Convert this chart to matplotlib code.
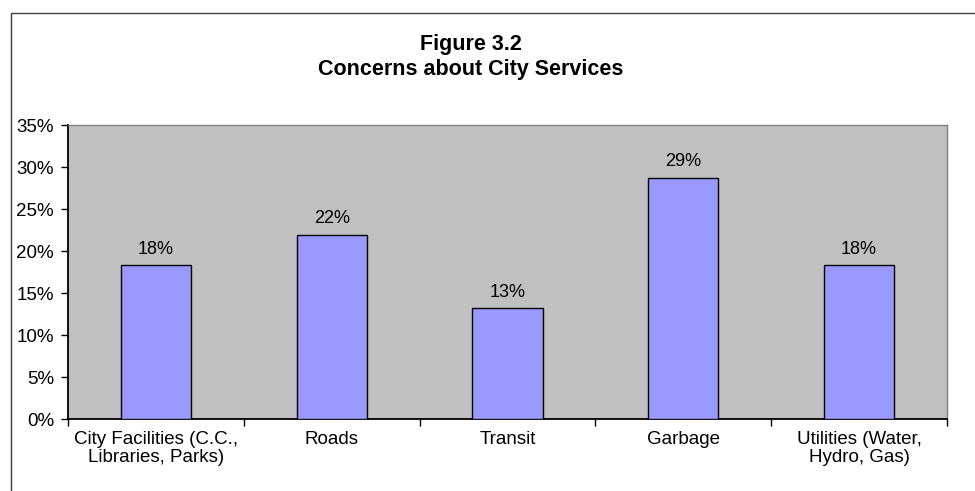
import matplotlib.pyplot as plt
import matplotlib.patches as mpatches
import numpy as np

# data
categories = ['City Facilities (C.C.,\nLibraries, Parks)', 'Roads', 'Transit',
              'Garbage', 'Utilities (Water,\nHydro, Gas)']
values = [18.3, 21.9, 13.2, 28.7, 18.3]
value_labels = ['18%', '22%', '13%', '29%', '18%']
yticks = [0, 5, 10, 15, 20, 25, 30, 35]

BAR = '#9999FF'
PLOT_BG = '#C0C0C0'

plt.rcParams['font.family'] = ['Liberation Sans', 'DejaVu Sans']

fig = plt.figure(figsize=(9.75, 4.91), dpi=100)
fig.patch.set_facecolor('white')
ax = fig.add_axes([68 / 975, 1 - 419 / 491, (947 - 68) / 975, (419 - 125) / 491])
ax.set_facecolor(PLOT_BG)

# outer chart border (runs off the image on right and bottom)
fig.patches.append(mpatches.Rectangle((11 / 975, -0.2), 1.2, 1.2 - 13 / 491,
                                      transform=fig.transFigure, fill=False,
                                      edgecolor='#404040', linewidth=1))

x = np.arange(len(categories))
bars = ax.bar(x, values, width=0.4, color=BAR, edgecolor='black', linewidth=1, zorder=3)

for bar, lab in zip(bars, value_labels):
    ax.text(bar.get_x() + bar.get_width() / 2, bar.get_height() + 0.9, lab,
            ha='center', va='bottom', fontsize=13, color='black')

ax.set_xlim(-0.5, len(categories) - 0.5)
ax.set_ylim(0, 35)
ax.set_yticks(yticks)
ax.set_yticklabels([f'{t}%' for t in yticks], fontsize=13.5)

# category labels between boundary ticks
ax.set_xticks(np.arange(len(categories) + 1) - 0.5)
ax.set_xticklabels([])
ax.set_xticks(x, minor=True)
ax.set_xticklabels(categories, minor=True, fontsize=13.5, linespacing=1.0)
ax.tick_params(axis='x', which='minor', length=0, pad=9)
ax.tick_params(axis='x', which='major', length=5, direction='out', width=1)
ax.tick_params(axis='y', length=5, direction='out', width=1, pad=5)

for s in ['left', 'bottom']:
    ax.spines[s].set_color('black')
    ax.spines[s].set_linewidth(1.3)
for s in ['top', 'right']:
    ax.spines[s].set_color('#808080')
    ax.spines[s].set_linewidth(1)

fig.text(471 / 975, 1 - 50 / 491, 'Figure 3.2', ha='center', va='baseline',
         fontsize=15.5, fontweight='bold')
fig.text(471 / 975, 1 - 75 / 491, 'Concerns about City Services', ha='center',
         va='baseline', fontsize=15.5, fontweight='bold')

plt.savefig('out.png', dpi=100, facecolor='white')
